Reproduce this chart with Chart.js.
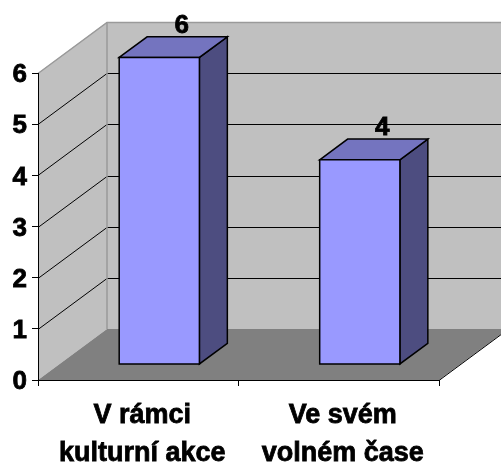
<!DOCTYPE html>
<html><head><meta charset="utf-8">
<script src="https://cdn.jsdelivr.net/npm/chart.js@4"></script>
<style>html,body{margin:0;padding:0;background:#fff}canvas{display:block}</style>
</head><body>
<canvas id="c" width="501" height="464"></canvas>
<script>
const categories = [["V rámci", "kulturní akce"], ["Ve svém", "volném čase"]];
const values = [6, 4];
const yTicks = [0, 1, 2, 3, 4, 5, 6];

const DEPTH = { dx: 69, dy: -51 };
const BAR_FRONT = 0.305, BAR_BACK = 0.71;
const FONT = "'Liberation Sans', Arial, sans-serif";

const plugin3d = {
  id: 'excel3d',
  beforeDraw(chart) {
    const ctx = chart.ctx, a = chart.chartArea, ys = chart.scales.y;
    const { dx, dy } = DEPTH;
    ctx.save();
    ctx.fillStyle = '#C0C0C0';
    ctx.fillRect(a.left + dx, a.top + dy, a.right - a.left, a.bottom - a.top);
    ctx.beginPath();
    ctx.moveTo(a.left, a.top); ctx.lineTo(a.left + dx, a.top + dy);
    ctx.lineTo(a.left + dx, a.bottom + dy); ctx.lineTo(a.left, a.bottom);
    ctx.closePath(); ctx.fill();
    ctx.fillStyle = '#808080';
    ctx.beginPath();
    ctx.moveTo(a.left, a.bottom); ctx.lineTo(a.right, a.bottom);
    ctx.lineTo(a.right + dx, a.bottom + dy); ctx.lineTo(a.left + dx, a.bottom + dy);
    ctx.closePath(); ctx.fill();
    ctx.strokeStyle = '#000'; ctx.lineWidth = 1;
    ctx.beginPath(); ctx.moveTo(a.right, a.bottom + 0.5); ctx.lineTo(a.right + dx, a.bottom + dy + 0.5); ctx.stroke();
    yTicks.forEach(v => {
      if (v === 0) return;
      const y = Math.round(ys.getPixelForValue(v)) + 0.5;
      const top = v === ys.max;
      ctx.strokeStyle = top ? '#9A9A9A' : '#000';
      ctx.lineWidth = top ? 1.5 : 1;
      ctx.beginPath();
      ctx.moveTo(a.left, y); ctx.lineTo(a.left + dx, y + dy);
      ctx.lineTo(a.right + dx, y + dy);
      ctx.stroke();
    });
    ctx.strokeStyle = '#9A9A9A'; ctx.lineWidth = 1.5;
    ctx.beginPath(); ctx.moveTo(a.left + dx, a.top + dy); ctx.lineTo(a.left + dx, a.bottom + dy); ctx.stroke();
    ctx.restore();
  },
  afterDatasetsDraw(chart) {
    const ctx = chart.ctx;
    const { dx, dy } = DEPTH;
    const ox = dx * BAR_FRONT, oy = dy * BAR_FRONT;
    const bdx = dx * (BAR_BACK - BAR_FRONT), bdy = dy * (BAR_BACK - BAR_FRONT);
    const meta = chart.getDatasetMeta(0);
    ctx.save();
    ctx.lineWidth = 1.5; ctx.strokeStyle = '#000'; ctx.lineJoin = 'miter';
    meta.data.forEach((el, i) => {
      const p = el.getProps(['x', 'y', 'base', 'width'], true);
      const L = p.x - p.width / 2 + ox, R = p.x + p.width / 2 + ox;
      const T = p.y + oy, B = p.base + oy;
      ctx.fillStyle = '#4D4D80';
      ctx.beginPath();
      ctx.moveTo(R, T); ctx.lineTo(R + bdx, T + bdy); ctx.lineTo(R + bdx, B + bdy); ctx.lineTo(R, B);
      ctx.closePath(); ctx.fill(); ctx.stroke();
      ctx.fillStyle = '#7474BF';
      ctx.beginPath();
      ctx.moveTo(L, T); ctx.lineTo(L + bdx, T + bdy); ctx.lineTo(R + bdx, T + bdy); ctx.lineTo(R, T);
      ctx.closePath(); ctx.fill(); ctx.stroke();
      ctx.fillStyle = '#9999FF';
      ctx.beginPath(); ctx.rect(L, T, R - L, B - T); ctx.fill(); ctx.stroke();
      ctx.fillStyle = '#000'; ctx.strokeStyle = '#000'; ctx.lineWidth = 0.8;
      ctx.font = 'bold 26px ' + FONT;
      ctx.textAlign = 'center'; ctx.textBaseline = 'alphabetic';
      const tx = p.x + ox + bdx * 0.8, ty = T + bdy - 4;
      ctx.strokeText(String(values[i]), tx, ty);
      ctx.fillText(String(values[i]), tx, ty);
      ctx.lineWidth = 1.5;
    });
    ctx.restore();
  }
};

new Chart(document.getElementById('c'), {
  type: 'bar',
  data: {
    labels: categories,
    datasets: [{
      data: values,
      backgroundColor: 'rgba(0,0,0,0)',
      borderWidth: 0,
      barPercentage: 0.4,
      categoryPercentage: 1.0
    }]
  },
  options: {
    responsive: false,
    animation: false,
    devicePixelRatio: 1,
    layout: { padding: { left: 0, top: 73, right: 62, bottom: 0 } },
    plugins: { legend: { display: false }, tooltip: { enabled: false } },
    scales: {
      x: {
        grid: { display: true, drawOnChartArea: false, drawTicks: true, tickLength: 6, color: '#000', offset: true },
        border: { display: true, color: '#000', width: 1 },
        ticks: { color: '#000', font: { family: FONT, size: 27, weight: 'bold', lineHeight: 1.4 }, padding: 11, labelOffset: 4, maxRotation: 0, autoSkip: false, textStrokeColor: '#000', textStrokeWidth: 0.8 },
        afterFit(s) { s.height = 84; }
      },
      y: {
        min: 0, max: 6,
        afterBuildTicks(s) { s.ticks = yTicks.map(v => ({ value: v })); },
        grid: { display: true, drawOnChartArea: false, drawTicks: true, tickLength: 6, color: '#000' },
        border: { display: true, color: '#000', width: 1 },
        ticks: { color: '#000', font: { family: FONT, size: 26, weight: 'bold' }, padding: 5, labelOffset: 2, textStrokeColor: '#000', textStrokeWidth: 0.8 },
        afterFit(s) { s.width = 38; }
      }
    }
  },
  plugins: [plugin3d]
});
</script>
</body></html>
